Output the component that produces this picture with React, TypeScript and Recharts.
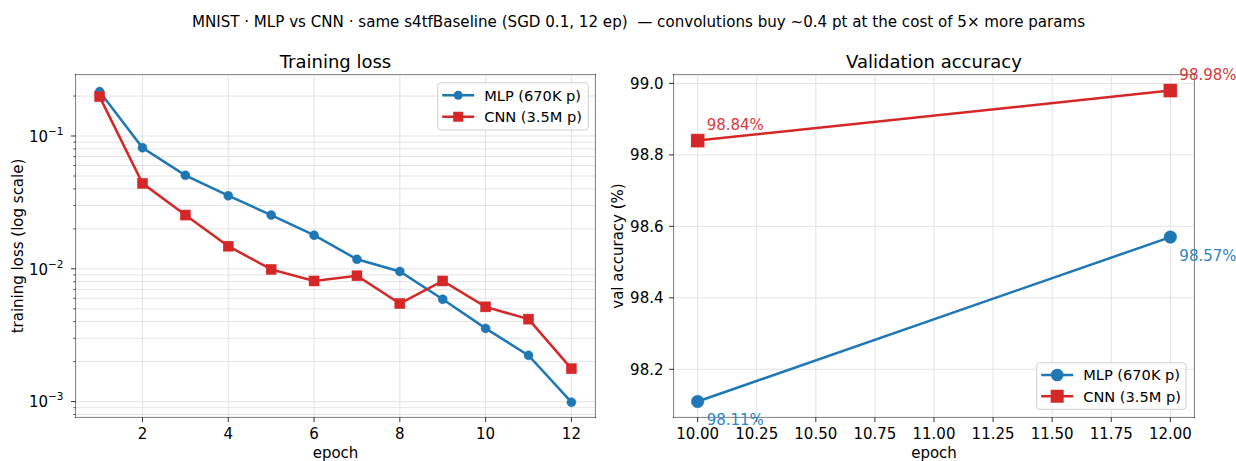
import React from 'react';
import { LineChart, Line, XAxis, YAxis, CartesianGrid, LabelList } from 'recharts';

const FONT = '"DejaVu Sans", Verdana, sans-serif';
const BLUE = '#1f77b4';
const RED = '#d62728';
const SPINE = '#333333';
const GRID = '#e3e3e3';

// ---------- data ----------
const epochs = [1, 2, 3, 4, 5, 6, 7, 8, 9, 10, 11, 12];
const mlpLoss = [0.216, 0.0816, 0.0506, 0.0355, 0.0254, 0.0179, 0.0118, 0.00955, 0.0059, 0.00356, 0.00223, 0.00099];
const cnnLoss = [0.198, 0.044, 0.0254, 0.0148, 0.0099, 0.0081, 0.00886, 0.00548, 0.0081, 0.00517, 0.00418, 0.00177];

const valEpochs = [10, 12];
const mlpAcc = [98.11, 98.57];
const cnnAcc = [98.84, 98.98];

const seriesNames = ['MLP (670K p)', 'CNN (3.5M p)'];

const lossMajorTicks = [0.001, 0.01, 0.1];
const lossMinorTicks = [0.0008, 0.0009, 0.002, 0.003, 0.004, 0.005, 0.006, 0.007, 0.008, 0.009,
  0.02, 0.03, 0.04, 0.05, 0.06, 0.07, 0.08, 0.09, 0.2];
const lossXTicks = [2, 4, 6, 8, 10, 12];
const accXTicks = [10, 10.25, 10.5, 10.75, 11, 11.25, 11.5, 11.75, 12];
const accYTicks = [98.2, 98.4, 98.6, 98.8, 99.0];

const title = 'MNIST · MLP vs CNN · same s4tfBaseline (SGD 0.1, 12 ep)  — convolutions buy ~0.4 pt at the cost of 5× more params';

const lossData = epochs.map((e, i) => ({ epoch: e, mlp: mlpLoss[i], cnn: cnnLoss[i] }));
const accData = valEpochs.map((e, i) => ({ epoch: e, mlp: mlpAcc[i], cnn: cnnAcc[i] }));

// ---------- geometry ----------
const H = 461;
const TOP = 75;
const BOTTOM = 417;
const FS = 15;
const LFS = 14.6;
const HALF = 5.4;

const L1 = 76, R1 = 595, W1 = 620;
const OFF2 = 620, W2 = 616, L2 = 54, R2 = 574;

const YAXIS_W = 50;
const XAXIS_H = 30;

const allLossTicks = [...lossMinorTicks, ...lossMajorTicks].sort((a, b) => a - b);

const supMinus = (n: number) => '−' + Math.abs(n);

const makeXTick = (fmt: (v: number) => string) => (props: any) => {
  const { x, payload } = props;
  return (
    <g>
      <line x1={x} x2={x} y1={BOTTOM} y2={BOTTOM + 5} stroke={SPINE} strokeWidth={1} />
      <text x={x} y={BOTTOM + 21.7} textAnchor="middle" fontFamily={FONT} fontSize={FS} fill="#000">
        {fmt(payload.value)}
      </text>
    </g>
  );
};

const LogYTick = (props: any) => {
  const { y, payload } = props;
  const v = payload.value as number;
  const major = lossMajorTicks.some((m) => Math.abs(m - v) < 1e-12);
  if (!major) {
    return <line x1={L1} x2={L1 - 2.8} y1={y} y2={y} stroke={SPINE} strokeWidth={0.8} />;
  }
  const exp = Math.round(Math.log10(v));
  return (
    <g>
      <line x1={L1} x2={L1 - 5} y1={y} y2={y} stroke={SPINE} strokeWidth={1} />
      <text x={L1 - 12.5} y={y + 5.8} textAnchor="end" fontFamily={FONT} fontSize={FS} fill="#000">
        10<tspan dy={-7} fontSize={10.5}>{supMinus(exp)}</tspan>
      </text>
    </g>
  );
};

const AccYTick = (props: any) => {
  const { y, payload } = props;
  return (
    <g>
      <line x1={L2} x2={L2 - 5} y1={y} y2={y} stroke={SPINE} strokeWidth={1} />
      <text x={L2 - 10.5} y={y + HALF} textAnchor="end" fontFamily={FONT} fontSize={FS} fill="#000">
        {(payload.value as number).toFixed(1)}
      </text>
    </g>
  );
};

const circleDot = (r: number, color: string) => (p: any) => (
  <circle key={`c-${p.index}`} cx={p.cx} cy={p.cy} r={r} fill={color} stroke={color} strokeWidth={0.5} />
);
const squareDot = (s: number, color: string) => (p: any) => (
  <rect key={`s-${p.index}`} x={p.cx - s / 2} y={p.cy - s / 2} width={s} height={s} fill={color} stroke={color} strokeWidth={0.5} />
);

const makeAnno = (color: string, dy: number) => (p: any) => {
  const x = p.viewBox?.x ?? p.x;
  const y = p.viewBox?.y ?? p.y;
  return (
    <text key={`a-${p.index}`} x={x + 9} y={y + dy} fontFamily={FONT} fontSize={FS} fill={color}>
      {(p.value as number).toFixed(2)}%
    </text>
  );
};

type LegendProps = { x: number; y: number; w: number; h: number; r: number; s: number };
const LegendBox = ({ x, y, w, h, r, s }: LegendProps) => {
  const lx1 = x + 4.5, lx2 = x + 36.5, mx = x + 20.5, tx = x + 46.5;
  const row1 = y + h * 0.265, row2 = y + h * 0.72;
  return (
    <g>
      <rect x={x} y={y} width={w} height={h} rx={3} ry={3} fill="#fff" fillOpacity={0.8} stroke="#d0d0d0" strokeWidth={1} />
      <line x1={lx1} x2={lx2} y1={row1} y2={row1} stroke={BLUE} strokeWidth={2.5} />
      <circle cx={mx} cy={row1} r={r} fill={BLUE} />
      <text x={tx} y={row1 + HALF} fontFamily={FONT} fontSize={LFS} fill="#000">{seriesNames[0]}</text>
      <line x1={lx1} x2={lx2} y1={row2} y2={row2} stroke={RED} strokeWidth={2.5} />
      <rect x={mx - s / 2} y={row2 - s / 2} width={s} height={s} fill={RED} />
      <text x={tx} y={row2 + HALF} fontFamily={FONT} fontSize={LFS} fill="#000">{seriesNames[1]}</text>
    </g>
  );
};

export default function App() {
  return (
    <div style={{ position: 'absolute', left: 0, top: 0, width: 1236, height: H, background: '#fff', fontFamily: FONT }}>
      <svg width={1236} height={H} style={{ position: 'absolute', left: 0, top: 0 }}>
        <rect x={L1 - 0.5} y={TOP - 0.5} width={R1 - L1 + 1} height={BOTTOM - TOP + 1} fill="none" stroke={SPINE} strokeWidth={1} />
        <rect x={OFF2 + L2 - 0.5} y={TOP - 0.5} width={R2 - L2 + 1} height={BOTTOM - TOP + 1} fill="none" stroke={SPINE} strokeWidth={1} />
      </svg>

      <div style={{ position: 'absolute', left: 0, top: 0 }}>
        <LineChart
          width={W1}
          height={H}
          data={lossData}
          margin={{ top: TOP, right: W1 - R1, bottom: H - BOTTOM - XAXIS_H, left: L1 - YAXIS_W }}
        >
          <CartesianGrid stroke={GRID} strokeWidth={1} />
          <XAxis
            dataKey="epoch"
            type="number"
            domain={[0.45, 12.55]}
            ticks={lossXTicks}
            interval={0}
            height={XAXIS_H}
            axisLine={false}
            tickLine={false}
            tick={makeXTick((v) => String(v))}
            allowDataOverflow
          />
          <YAxis
            type="number"
            scale="log"
            domain={[0.000766, 0.288]}
            ticks={allLossTicks}
            interval={0}
            width={YAXIS_W}
            axisLine={false}
            tickLine={false}
            tick={LogYTick}
            allowDataOverflow
          />
          <Line dataKey="mlp" stroke={BLUE} strokeWidth={2.5} dot={circleDot(4.5, BLUE)} isAnimationActive={false} />
          <Line dataKey="cnn" stroke={RED} strokeWidth={2.5} dot={squareDot(10, RED)} isAnimationActive={false} />
        </LineChart>
      </div>

      <div style={{ position: 'absolute', left: OFF2, top: 0 }}>
        <LineChart
          width={W2}
          height={H}
          data={accData}
          margin={{ top: TOP, right: W2 - R2, bottom: H - BOTTOM - XAXIS_H, left: L2 - YAXIS_W }}
          style={{ overflow: 'visible' }}
        >
          <CartesianGrid stroke={GRID} strokeWidth={1} />
          <XAxis
            dataKey="epoch"
            type="number"
            domain={[9.9, 12.1]}
            ticks={accXTicks}
            interval={0}
            height={XAXIS_H}
            axisLine={false}
            tickLine={false}
            tick={makeXTick((v) => v.toFixed(2))}
          />
          <YAxis
            type="number"
            domain={[98.0665, 99.0235]}
            ticks={accYTicks}
            interval={0}
            width={YAXIS_W}
            axisLine={false}
            tickLine={false}
            tick={AccYTick}
          />
          <Line dataKey="mlp" stroke={BLUE} strokeWidth={2.5} dot={circleDot(6.3, BLUE)} isAnimationActive={false}>
            <LabelList dataKey="mlp" content={makeAnno('#2f86c0', 23.7)} />
          </Line>
          <Line dataKey="cnn" stroke={RED} strokeWidth={2.5} dot={squareDot(13, RED)} isAnimationActive={false}>
            <LabelList dataKey="cnn" content={makeAnno('#da3a3a', -11)} />
          </Line>
        </LineChart>
      </div>

      <svg width={1236} height={H} style={{ position: 'absolute', left: 0, top: 0, pointerEvents: 'none' }}>
        <text x={638.5} y={26.5} textAnchor="middle" fontFamily={FONT} fontSize={15.1} fill="#000" style={{ whiteSpace: 'pre' }}>
          {title}
        </text>
        <text x={(L1 + R1) / 2} y={68} textAnchor="middle" fontFamily={FONT} fontSize={18} fill="#000">Training loss</text>
        <text x={OFF2 + (L2 + R2) / 2} y={68} textAnchor="middle" fontFamily={FONT} fontSize={18} fill="#000">Validation accuracy</text>
        <text x={(L1 + R1) / 2} y={458} textAnchor="middle" fontFamily={FONT} fontSize={FS} fill="#000">epoch</text>
        <text x={OFF2 + (L2 + R2) / 2} y={458} textAnchor="middle" fontFamily={FONT} fontSize={FS} fill="#000">epoch</text>
        <text transform={`translate(22.5, ${(TOP + BOTTOM) / 2}) rotate(-90)`} textAnchor="middle" fontFamily={FONT} fontSize={FS} fill="#000">
          training loss (log scale)
        </text>
        <text transform={`translate(623, ${(TOP + BOTTOM) / 2}) rotate(-90)`} textAnchor="middle" fontFamily={FONT} fontSize={FS} fill="#000">
          val accuracy (%)
        </text>
        <LegendBox x={437.7} y={82.7} w={150.6} h={47.3} r={4.5} s={10} />
        <LegendBox x={1036.7} y={362.7} w={149.3} h={46.6} r={6.3} s={13} />
      </svg>
    </div>
  );
}
